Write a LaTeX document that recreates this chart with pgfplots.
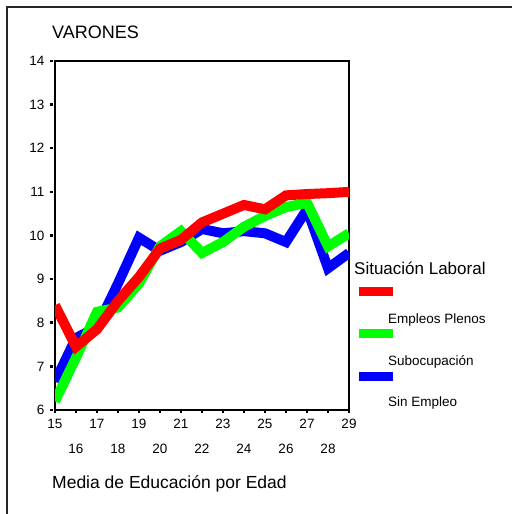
\documentclass[border=0pt]{standalone}
\usepackage{pgfplots}
\pgfplotsset{compat=1.18}
\usepackage{fontspec}
\setmainfont{Liberation Sans}
\definecolor{cred}{RGB}{255,0,0}
\definecolor{cgreen}{RGB}{0,255,0}
\definecolor{cblue}{RGB}{0,0,255}
\begin{document}
\begin{tikzpicture}[x=1pt,y=1pt]
\useasboundingbox (0,0) rectangle (512,514);
\fill[white] (0,0) rectangle (512,514);
\draw[line width=1.5pt, black!85] (7,0) -- (7,507) -- (512,507);
\begin{axis}[
  at={(55pt,104pt)}, anchor=south west,
  scale only axis, width=294pt, height=349pt,
  xmin=15, xmax=29, ymin=6, ymax=14,
  xtick={15,17,...,29},
  extra x ticks={16,18,...,28},
  extra x tick style={xticklabel style={yshift=-25pt}},
  ytick={6,...,14},
  tick align=outside,
  major tick length=3pt,
  every tick/.style={black, line width=2.5pt},
  y tick style={xshift=-2pt},
  axis line style={line width=1.5pt},
  ticklabel style={font=\fontsize{13.5}{14}\selectfont},
  xticklabel style={yshift=-3pt},
  yticklabel style={xshift=-4pt},
  /pgf/number format/assume math mode=true,
  tick pos=left,
  clip=true,
]
\addplot[cblue, line width=10pt] coordinates {
(15,6.65) (16,7.65) (17,7.9) (18,8.9) (19,9.95) (20,9.65) (21,9.85) (22,10.15)
(23,10.05) (24,10.1) (25,10.05) (26,9.85) (27,10.6) (28,9.25) (29,9.6)};
\addplot[cgreen, line width=10pt] coordinates {
(15,6.2) (16,7.2) (17,8.25) (18,8.35) (19,8.9) (20,9.75) (21,10.1) (22,9.6)
(23,9.85) (24,10.2) (25,10.45) (26,10.65) (27,10.75) (28,9.75) (29,10.05)};
\addplot[cred, line width=10pt] coordinates {
(15,8.4) (16,7.45) (17,7.85) (18,8.5) (19,9.05) (20,9.7) (21,9.9) (22,10.3)
(23,10.5) (24,10.7) (25,10.6) (26,10.92) (27,10.95) (28,10.97) (29,11.0)};
\end{axis}
\node[anchor=base west, inner sep=0, font=\fontsize{18}{20}\selectfont] at (52,475) {VARONES};
\node[anchor=base west, inner sep=0, font=\fontsize{17.5}{20}\selectfont] at (52,25) {Media de Educación por Edad};
\node[anchor=base west, inner sep=0, font=\fontsize{17}{20}\selectfont] at (354,239) {Situación Laboral};
\fill[cred] (359,218) rectangle (393,227);
\fill[cgreen] (359,176) rectangle (393,185);
\fill[cblue] (359,133) rectangle (393,142);
\node[anchor=base west, inner sep=0, font=\fontsize{13.5}{15}\selectfont] at (388,190) {Empleos Plenos};
\node[anchor=base west, inner sep=0, font=\fontsize{13.5}{15}\selectfont] at (388,148) {Subocupación};
\node[anchor=base west, inner sep=0, font=\fontsize{13.5}{15}\selectfont] at (388,107) {Sin Empleo};
\end{tikzpicture}
\end{document}
